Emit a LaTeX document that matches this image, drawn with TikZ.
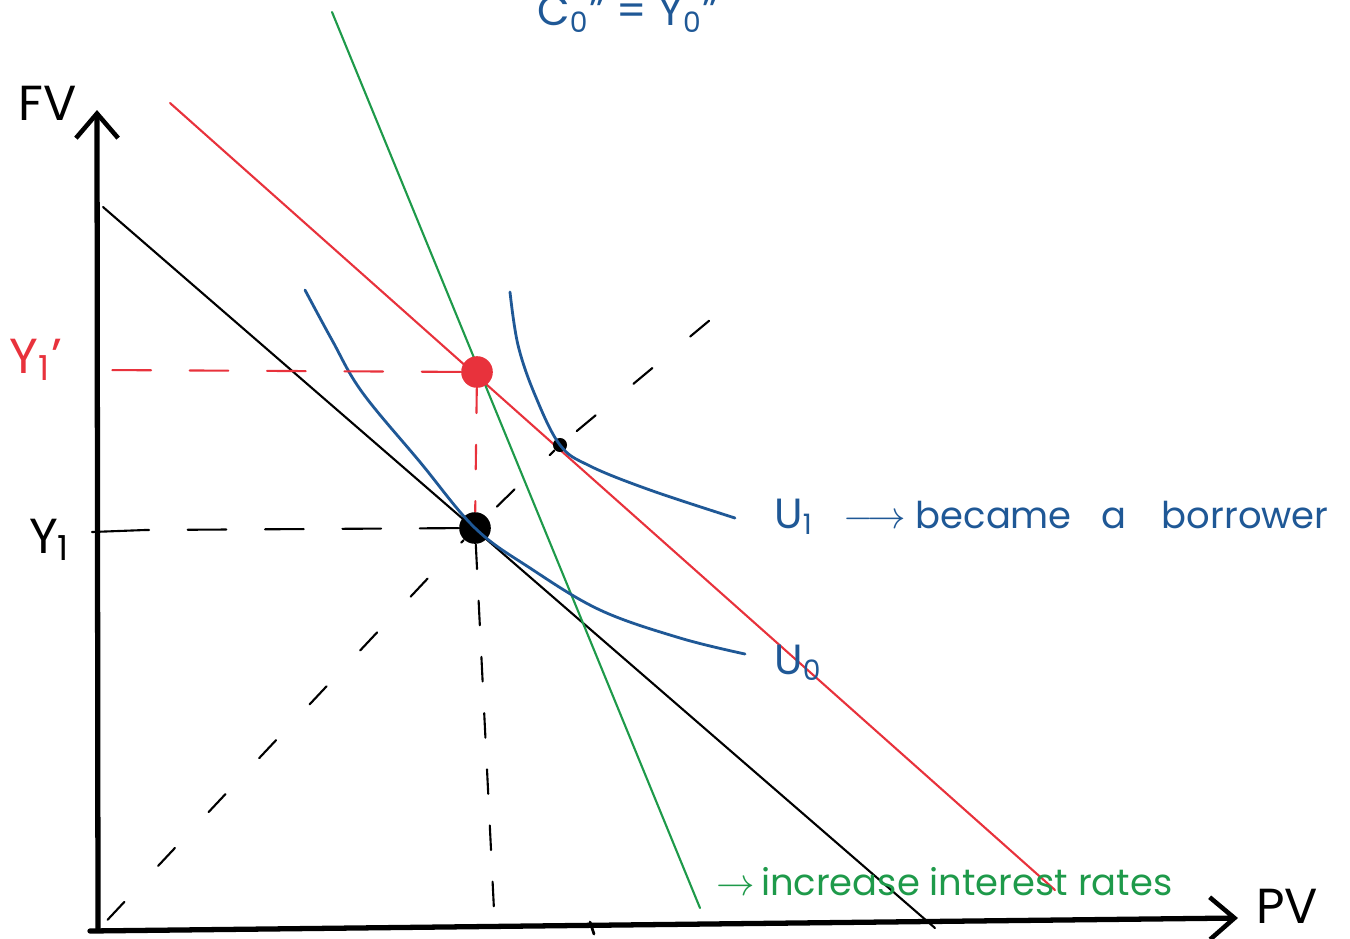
\documentclass[tikz,border=0pt]{standalone}
\usepackage{fontspec}
\setmainfont{Poppins}
\usetikzlibrary{arrows.meta}
\definecolor{inkred}{HTML}{E8323C}
\definecolor{inkgreen}{HTML}{1E9A4A}
\definecolor{inkblue}{HTML}{1F5896}
\tikzset{
  every picture/.style={line join=round, line cap=round},
  axis/.style={line width=1.5pt, -{Straight Barb[length=7pt,width=12pt,line width=1.3pt]}},
  budget/.style={line width=0.6pt},
  indiff/.style={inkblue, line width=0.8pt},
  guide/.style={line width=0.6pt, dash pattern=on 11pt off 11pt},
  vguide/.style={line width=0.6pt, dash pattern=on 7pt off 9pt},
  ray/.style={line width=0.6pt, dash pattern=on 7pt off 14pt, dash phase=-4pt},
  dot/.style={circle, fill, inner sep=0pt, minimum size=#1},
  dot/.default=5pt,
  axislabel/.style={font=\fontsize{14}{16}\selectfont},
  hand/.style={font=\fontsize{12}{14}\selectfont},
}
\begin{document}
\begin{tikzpicture}[x=0.01cm, y=-0.01cm]
  \useasboundingbox (0,0) rectangle (1350,938);

  % axes
  \coordinate (O) at (98,930);
  \coordinate (ytop) at (97,110);
  \coordinate (xend) at (1238,918);
  \draw[axis] (O) -- (ytop);
  \draw[axis] (90,931) -- (xend);
  \node[axislabel] (fv) at (48,103) {FV};
  \node[axislabel, inner sep=1pt] (pv) at (1287,906) {PV};

  % budget lines
  \draw[budget] (103,207) -- (935,928);
  \draw[budget, inkred] (170,103) -- (1055,890);
  \draw[budget, inkgreen] (332,12) -- (700,908);

  % points
  \node[dot=9pt, inkred] (E1) at (477,372) {};
  \node[dot=9pt] (E0) at (475,528) {};
  \node[dot=4pt] (E2) at (560,445) {};
  \coordinate (raytop) at (740,295);

  % indifference curves
  \draw[indiff] plot[smooth, tension=0.6] coordinates
    {(305,290) (332,340) (362,392) (420,462) (E0) (530,568) (600,610) (680,638) (745,654)};
  \draw[indiff] plot[smooth, tension=0.6] coordinates
    {(510,292) (518,345) (535,395) (E2) (590,466) (650,490) (735,518)};

  % guides
  \draw[guide, inkred] (E1) -- (103,370);
  \draw[vguide, inkred] (E1) -- (E0);
  \draw[guide] (E0) -- (145,530);
  \draw[budget] (92,532) -- (145,530);
  \draw[vguide] (E0) -- (495,930);
  \draw[ray] (O) -- (E0) -- (E2) -- (raytop);
  \draw[line width=0.8pt] (590,922) -- (594,934);

  % labels
  \node[axislabel, inkred] (y1p) at (36,360) {Y\textsubscript{1}'};
  \node[axislabel] (y1) at (50,540) {Y\textsubscript{1}};
  \node[hand, inkblue, anchor=west] (u0) at (762,663) {U\textsubscript{0}};
  \node[font=\fontsize{10.5}{12}\selectfont, inkblue, anchor=west] (u1) at (762,517)
    {{\fontsize{12}{14}\selectfont U\textsubscript{1}}\hspace{3mm}$\longrightarrow$\hspace{1mm}became\hspace{3mm}a\hspace{3.5mm}borrower};
  \node[font=\fontsize{10.5}{12}\selectfont, inkgreen, anchor=west] (rate) at (704,882)
    {$\rightarrow$\,increase interest rates};
  \node[hand, inkblue] (c0) at (628,14) {C\textsubscript{0}'' = Y\textsubscript{0}''};
\end{tikzpicture}
\end{document}
